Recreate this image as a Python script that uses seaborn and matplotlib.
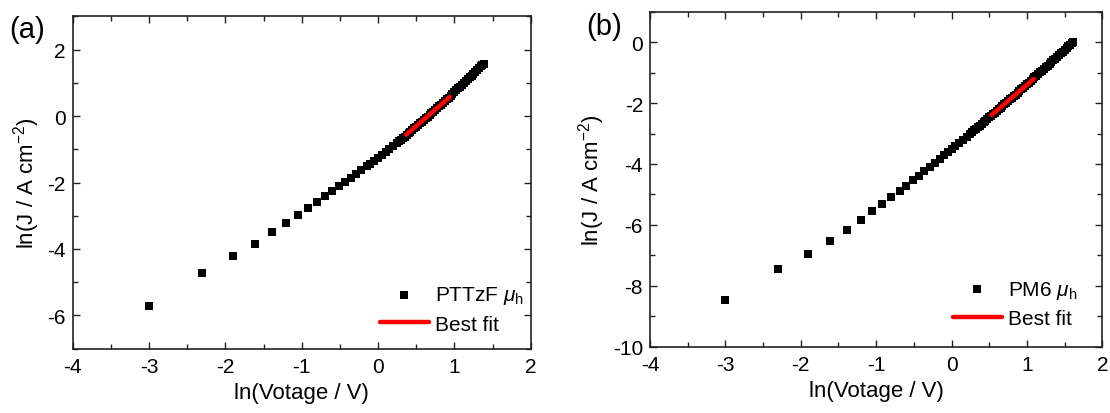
import matplotlib
matplotlib.use("Agg")
import matplotlib.pyplot as plt
from matplotlib.ticker import MultipleLocator
import seaborn as sns
import pandas as pd

# ---- data: panel (a) PTTzF ----
a_x = [-3.00, -2.30, -1.90, -1.61, -1.39, -1.20, -1.05, -0.92, -0.80, -0.69, -0.60, -0.51,
       -0.43, -0.36, -0.29, -0.22, -0.15, -0.10, -0.05, 0.00, 0.05, 0.10, 0.15, 0.20,
       0.25, 0.275, 0.30, 0.325, 0.35, 0.375, 0.40, 0.425, 0.45, 0.475, 0.50, 0.525,
       0.55, 0.575, 0.60, 0.625, 0.65, 0.675, 0.70, 0.725, 0.75, 0.775, 0.80, 0.825,
       0.85, 0.875, 0.90, 0.925, 0.95, 0.975, 1.00, 1.025, 1.05, 1.075, 1.10, 1.125,
       1.15, 1.175, 1.20, 1.225, 1.25, 1.275, 1.30, 1.325, 1.35, 1.365, 1.386]
a_y = [-5.72, -4.73, -4.22, -3.84, -3.49, -3.22, -2.98, -2.78, -2.59, -2.41, -2.26, -2.11,
       -1.99, -1.87, -1.75, -1.63, -1.51, -1.43, -1.34, -1.26, -1.18, -1.09, -1.00, -0.91,
       -0.81, -0.76, -0.72, -0.67, -0.62, -0.57, -0.52, -0.47, -0.42, -0.37, -0.32, -0.27,
       -0.22, -0.17, -0.12, -0.07, -0.02, 0.03, 0.08, 0.13, 0.19, 0.24, 0.29, 0.34,
       0.39, 0.45, 0.50, 0.55, 0.61, 0.66, 0.72, 0.77, 0.83, 0.88, 0.94, 0.99,
       1.05, 1.10, 1.16, 1.21, 1.27, 1.33, 1.38, 1.44, 1.50, 1.53, 1.58]
a_fit_x = [0.37, 0.94]
a_fit_y = [-0.56, 0.57]

# ---- data: panel (b) PM6 ----
b_x = [-3.00, -2.30, -1.90, -1.61, -1.39, -1.20, -1.05, -0.92, -0.80, -0.69, -0.60, -0.51,
       -0.43, -0.36, -0.29, -0.22, -0.15, -0.10, -0.05, 0.00, 0.05, 0.10, 0.15, 0.20,
       0.25, 0.275, 0.30, 0.325, 0.35, 0.375, 0.40, 0.425, 0.45, 0.475, 0.50, 0.525,
       0.55, 0.575, 0.60, 0.625, 0.65, 0.675, 0.70, 0.725, 0.75, 0.775, 0.80, 0.825,
       0.85, 0.875, 0.90, 0.925, 0.95, 0.975, 1.00, 1.025, 1.05, 1.075, 1.10, 1.125,
       1.15, 1.175, 1.20, 1.225, 1.25, 1.275, 1.30, 1.325, 1.35, 1.375, 1.40, 1.425,
       1.45, 1.475, 1.50, 1.525, 1.55, 1.575, 1.595, 1.609]
b_y = [-8.47, -7.46, -6.94, -6.53, -6.16, -5.85, -5.56, -5.32, -5.09, -4.88, -4.71, -4.53,
       -4.38, -4.24, -4.10, -3.96, -3.82, -3.72, -3.62, -3.52, -3.42, -3.31, -3.21, -3.11,
       -3.00, -2.95, -2.90, -2.84, -2.79, -2.74, -2.69, -2.63, -2.58, -2.53, -2.47, -2.42,
       -2.37, -2.31, -2.26, -2.21, -2.15, -2.10, -2.04, -1.99, -1.94, -1.88, -1.83, -1.77,
       -1.72, -1.66, -1.61, -1.55, -1.50, -1.44, -1.39, -1.33, -1.27, -1.22, -1.16, -1.11,
       -1.05, -0.99, -0.94, -0.88, -0.83, -0.77, -0.71, -0.65, -0.60, -0.54, -0.48, -0.43,
       -0.37, -0.31, -0.25, -0.20, -0.14, -0.08, -0.03, 0.00]
b_fit_x = [0.53, 1.09]
b_fit_y = [-2.39, -1.21]

panels = [
    dict(x=a_x, y=a_y, fx=a_fit_x, fy=a_fit_y, label=r"PTTzF $\mu_\mathrm{h}$",
         ylim=(-7, 3), tag="(a)"),
    dict(x=b_x, y=b_y, fx=b_fit_x, fy=b_fit_y, label=r"PM6 $\mu_\mathrm{h}$",
         ylim=(-10, 1), tag="(b)"),
]

sns.set_style("ticks")
plt.rcParams["font.family"] = ["Liberation Sans", "DejaVu Sans"]
plt.rcParams["mathtext.fontset"] = "custom"
plt.rcParams["mathtext.rm"] = "Liberation Sans"
plt.rcParams["mathtext.it"] = "Liberation Sans:italic"
plt.rcParams["axes.unicode_minus"] = False
plt.rcParams["text.color"] = "black"
plt.rcParams["axes.labelcolor"] = "black"
plt.rcParams["xtick.labelcolor"] = "black"
plt.rcParams["ytick.labelcolor"] = "black"

fig = plt.figure(figsize=(11.1, 4.14), dpi=100)
axes_pos = [[0.0655, 0.1553, 0.4126, 0.8029], [0.5856, 0.1601, 0.4075, 0.8092]]
legend_anchor = [(0.985, 0.045), (0.945, 0.055)]
tag_pos = [(0.008, 0.927), (0.528, 0.935)]

for p, pos, lanc, tpos in zip(panels, axes_pos, legend_anchor, tag_pos):
    ax = fig.add_axes(pos)
    df = pd.DataFrame({"x": p["x"], "y": p["y"]})
    fit = pd.DataFrame({"x": p["fx"], "y": p["fy"]})
    sns.scatterplot(data=df, x="x", y="y", marker="s", s=38, color="black",
                    linewidth=0, ax=ax, label=p["label"], zorder=2)
    sns.lineplot(data=fit, x="x", y="y", color="#ff0000", linewidth=3.2, ax=ax,
                 label="Best fit", zorder=3, solid_capstyle="round")
    ax.set_xlim(-4, 2)
    ax.set_ylim(*p["ylim"])
    ax.xaxis.set_major_locator(MultipleLocator(1))
    ax.xaxis.set_minor_locator(MultipleLocator(0.5))
    ax.yaxis.set_major_locator(MultipleLocator(2))
    ax.yaxis.set_minor_locator(MultipleLocator(1))
    ax.tick_params(which="both", direction="in", top=True, right=True,
                   labelsize=15, width=1.0, color="#222222")
    ax.tick_params(which="major", length=5, pad=5)
    ax.tick_params(which="minor", length=3.5)
    ax.tick_params(axis="x", which="major", pad=6)
    for sp in ax.spines.values():
        sp.set_linewidth(1.2)
        sp.set_color("#222222")
    ax.set_xlabel("ln(Votage / V)", fontsize=16, labelpad=4)
    ax.set_ylabel("ln(J / A cm$^{-2}$)", fontsize=16, labelpad=4)
    ax.legend(loc="lower right", bbox_to_anchor=lanc, frameon=False, fontsize=15,
              borderpad=0, borderaxespad=0, handlelength=2.35, handletextpad=0.3,
              labelspacing=0.4, scatterpoints=1, markerscale=0.9)
    fig.text(tpos[0], tpos[1], p["tag"], fontsize=21, va="center", ha="left")

fig.savefig("out.png", dpi=100)
